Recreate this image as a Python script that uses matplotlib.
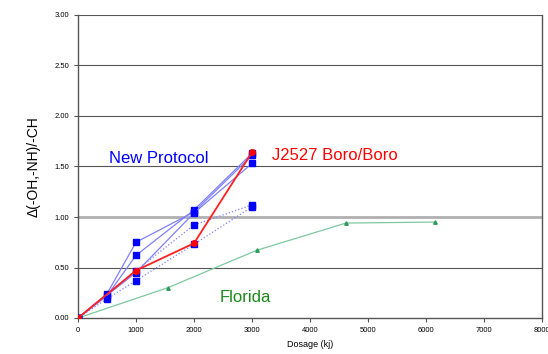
import matplotlib.pyplot as plt

plt.rcParams['font.family'] = ['Liberation Sans', 'DejaVu Sans']

# New Protocol runs (blue)
np_dose = [
    [0, 500, 1000, 2000, 3000],
    [0, 500, 1000, 2000, 3000],
    [0, 1000, 2000, 3000],
    [0, 1000, 2000, 3000],
    [0, 500, 1000, 2000, 3000],
]
np_vals = [
    [0.0, 0.24, 0.75, 1.05, 1.61],
    [0.0, 0.22, 0.62, 1.07, 1.63],
    [0.0, 0.45, 1.04, 1.53],
    [0.0, 0.47, 0.92, 1.12],
    [0.0, 0.19, 0.37, 0.73, 1.10],
]
np_styles = ['-', '-', '-', ':', ':']

# J2527 Boro/Boro (red)
j_dose = [0, 1000, 2000, 3000]
j_vals = [0.0, 0.47, 0.74, 1.64]

# Florida (green)
fl_dose = [0, 1550, 3080, 4620, 6160]
fl_vals = [0.0, 0.30, 0.67, 0.94, 0.95]

fig = plt.figure(figsize=(5.48, 3.54), dpi=100)
ax = fig.add_axes([78/548, 36/354, 464/548, 303/354])

for y in [0.5, 1.5, 2.0, 2.5, 3.0]:
    ax.axhline(y, color='#555555', lw=0.8, zorder=0)
ax.axhline(1.0, color='#b0b0b0', lw=2.0, zorder=0)

for d, v, ls in zip(np_dose, np_vals, np_styles):
    ax.plot(d, v, color='#8080ff', lw=0.9, ls=ls, marker='s', ms=4,
            mfc='#0000ff', mec='#0000ff', zorder=3)

ax.plot(fl_dose, fl_vals, color='#7fc8a0', lw=0.9, marker='^', ms=2.5,
        mfc='#2e9a5a', mec='#2e9a5a', zorder=2)

ax.plot(j_dose, j_vals, color='#ff2020', lw=1.3, marker='o', ms=4,
        mfc='#ff0000', mec='#ff0000', zorder=4)

ax.set_xlim(0, 8000)
ax.set_ylim(0, 3.0)
ax.set_xticks(range(0, 8001, 1000))
ax.set_yticks([0, 0.5, 1.0, 1.5, 2.0, 2.5, 3.0])
ax.set_yticklabels([f'{v:.2f}' for v in ax.get_yticks()])
ax.tick_params(labelsize=5.5, length=3, width=0.8, color='#555555')

for side in ['left', 'bottom', 'right']:
    ax.spines[side].set_color('#555555')
    ax.spines[side].set_linewidth(1.0)
ax.spines['top'].set_visible(False)

ax.set_xlabel('Dosage (kj)', fontsize=6.5, labelpad=4)
ax.set_ylabel('Δ(-OH,-NH)/-CH', fontsize=10, labelpad=10)

ax.text(540, 1.53, 'New Protocol', color='#0000ff', fontsize=12)
ax.text(3350, 1.56, 'J2527 Boro/Boro', color='#ff0000', fontsize=12)
ax.text(2450, 0.16, 'Florida', color='#1a8a1a', fontsize=12)

fig.savefig('out.png', dpi=100)
